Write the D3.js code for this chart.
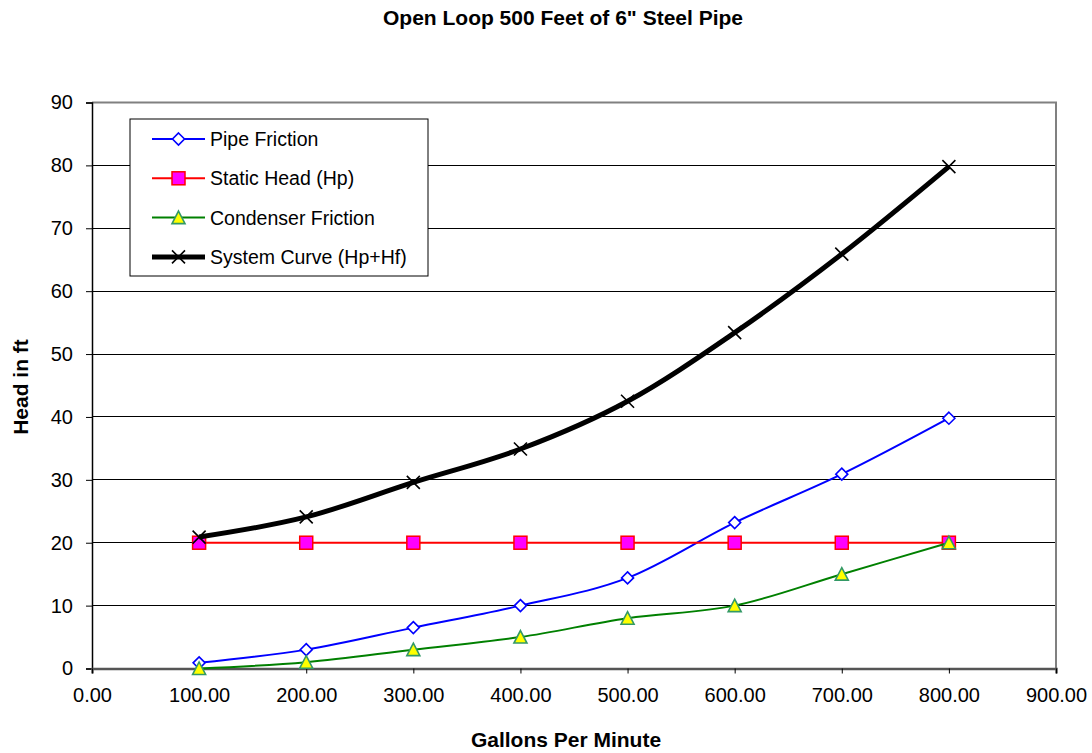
<!DOCTYPE html>
<html>
<head>
<meta charset="utf-8">
<script src="https://cdnjs.cloudflare.com/ajax/libs/d3/7.8.5/d3.min.js"></script>
<style>
  body { margin: 0; background: #fff; }
  text { font-family: Arial, "Liberation Sans", sans-serif; }
</style>
</head>
<body>
<svg id="chart" width="1092" height="753"></svg>
<script>
// data
const gpm = [100, 200, 300, 400, 500, 600, 700, 800];
const pipeFriction = [0.9, 3.0, 6.5, 10.0, 14.4, 23.2, 30.9, 39.8];
const staticHead = [20, 20, 20, 20, 20, 20, 20, 20];
const condenserFriction = [0, 1, 3, 5, 8, 10, 15, 20];
const systemCurve = [20.9, 24.1, 29.6, 34.9, 42.5, 53.4, 65.9, 79.8];
const xTicks = [0, 100, 200, 300, 400, 500, 600, 700, 800, 900];
const yTicks = [0, 10, 20, 30, 40, 50, 60, 70, 80, 90];

const series = [
  { name: "Pipe Friction", values: pipeFriction, color: "#0000ff", width: 2, marker: "diamond" },
  { name: "Static Head (Hp)", values: staticHead, color: "#ff0000", width: 2, marker: "square" },
  { name: "Condenser Friction", values: condenserFriction, color: "#008000", width: 2, marker: "triangle" },
  { name: "System Curve (Hp+Hf)", values: systemCurve, color: "#000000", width: 5, marker: "cross" }
];

const svg = d3.select("#chart");
const plotLeft = 92, plotRight = 1056, plotTop = 102.5, plotBottom = 668.5;
const fontStack = "Arial, 'Liberation Sans', sans-serif";

const x = d3.scaleLinear().domain([0, 900]).range([plotLeft, plotRight]);
const y = d3.scaleLinear().domain([0, 90]).range([plotBottom, plotTop]);

// gridlines
svg.append("g").selectAll("line")
  .data(yTicks.filter(d => d > 0 && d < 90))
  .join("line")
  .attr("x1", plotLeft).attr("x2", plotRight)
  .attr("y1", d => y(d)).attr("y2", d => y(d))
  .attr("stroke", "#000").attr("stroke-width", 1).attr("shape-rendering", "crispEdges");

// plot border (gray top/right)
svg.append("path")
  .attr("d", `M${plotLeft},${plotTop}H${plotRight}V${plotBottom}`)
  .attr("fill", "none").attr("stroke", "#808080").attr("stroke-width", 2);

// y axis
const yAxis = svg.append("g")
  .attr("transform", `translate(${plotLeft},0)`)
  .call(d3.axisLeft(y).tickValues(yTicks).tickSize(6).tickPadding(13).tickFormat(d3.format("d")));
yAxis.select(".domain").attr("stroke", "#000").attr("stroke-width", 1.5);
yAxis.selectAll(".tick line").attr("stroke", "#000");
yAxis.selectAll(".tick text").attr("font-size", 20).attr("fill", "#000")
  .style("font-family", fontStack);

// x axis
const xAxis = svg.append("g")
  .attr("transform", `translate(0,${plotBottom})`)
  .call(d3.axisBottom(x).tickValues(xTicks).tickSize(5).tickPadding(14).tickFormat(d3.format(".2f")));
xAxis.select(".domain").attr("stroke", "#555").attr("stroke-width", 2.5);
xAxis.selectAll(".tick line").attr("stroke", "#000");
xAxis.selectAll(".tick text").attr("font-size", 20).attr("fill", "#000")
  .style("font-family", fontStack);

// titles
svg.append("text").attr("x", 563).attr("y", 25).attr("text-anchor", "middle")
  .attr("font-size", 21).attr("font-weight", "bold").text('Open Loop 500 Feet of 6" Steel Pipe');
svg.append("text").attr("x", 566).attr("y", 747).attr("text-anchor", "middle")
  .attr("font-size", 21).attr("font-weight", "bold").text("Gallons Per Minute");
svg.append("text").attr("transform", "translate(28,387) rotate(-90)").attr("text-anchor", "middle")
  .attr("font-size", 21).attr("font-weight", "bold").text("Head in ft");

// markers
function drawMarker(g, type) {
  if (type === "diamond") {
    g.append("path").attr("d", "M0,-6L6,0L0,6L-6,0Z")
      .attr("fill", "#fff").attr("stroke", "#0000ff").attr("stroke-width", 1.6);
  } else if (type === "square") {
    g.append("rect").attr("x", -6.5).attr("y", -6.5).attr("width", 13).attr("height", 13)
      .attr("fill", "#ff00ff").attr("stroke", "#ff0000").attr("stroke-width", 1.5);
  } else if (type === "triangle") {
    g.append("path").attr("d", "M0,-6.5L6.5,6L-6.5,6Z")
      .attr("fill", "#ffff00").attr("stroke", "#339966").attr("stroke-width", 1.6);
  } else {
    g.append("path").attr("d", "M-6.5,-6.5L6.5,6.5M-6.5,6.5L6.5,-6.5")
      .attr("stroke", "#000").attr("stroke-width", 1.6);
  }
}

const line = d3.line().curve(d3.curveCardinal.tension(0))
  .x(d => x(d[0])).y(d => y(d[1]));

series.forEach(s => {
  const pts = gpm.map((g, i) => [g, s.values[i]]);
  svg.append("path").datum(pts).attr("d", line)
    .attr("fill", "none").attr("stroke", s.color).attr("stroke-width", s.width)
    .attr("stroke-linejoin", "round");
  pts.forEach(p => {
    drawMarker(svg.append("g").attr("transform", `translate(${x(p[0])},${y(p[1])})`), s.marker);
  });
});

// legend
const legend = svg.append("g");
legend.append("rect").attr("x", 130).attr("y", 119).attr("width", 298).attr("height", 157)
  .attr("fill", "#fff").attr("stroke", "#000").attr("stroke-width", 1);
series.forEach((s, i) => {
  const ly = 139 + i * 39.3;
  legend.append("line").attr("x1", 152).attr("x2", 205).attr("y1", ly).attr("y2", ly)
    .attr("stroke", s.color).attr("stroke-width", s.width);
  drawMarker(legend.append("g").attr("transform", `translate(178.5,${ly})`), s.marker);
  legend.append("text").attr("x", 210).attr("y", ly + 7).attr("font-size", 19.5).text(s.name);
});
</script>
</body>
</html>
